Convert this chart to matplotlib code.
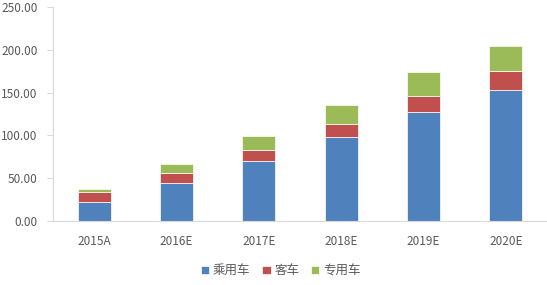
import matplotlib.pyplot as plt
import numpy as np

plt.rcParams['font.family'] = ['Noto Sans CJK SC', 'DejaVu Sans']

years = ['2015A', '2016E', '2017E', '2018E', '2019E', '2020E']
passenger = [22.2, 44.0, 70.0, 98.4, 127.5, 153.0]   # 乘用车
bus = [11.3, 12.0, 13.0, 15.1, 18.5, 22.5]            # 客车
special = [3.8, 10.5, 16.5, 22.5, 27.5, 29.5]        # 专用车
labels = ['乘用车', '客车', '专用车']
colors = ['#4F81BD', '#C0504D', '#9BBB59']

fig = plt.figure(figsize=(5.47, 2.85), dpi=100)
ax = fig.add_axes([0.097, 0.2246, 0.903, 0.7508])

x = np.arange(len(years))
w = 0.4
bottom = np.zeros(len(years))
for vals, lab, c in zip([passenger, bus, special], labels, colors):
    ax.bar(x, vals, w, bottom=bottom, color=c, label=lab, edgecolor='white', linewidth=0.5)
    bottom += np.array(vals)

ax.set_xlim(-0.5, len(years) - 0.5)
ax.set_ylim(0, 250)
ax.set_yticks(np.arange(0, 251, 50))
ax.set_yticklabels([f'{v:.2f}' for v in np.arange(0, 251, 50)])
ax.set_xticks(x)
ax.set_xticklabels(years)
ax.tick_params(labelsize=8.5, labelcolor='#595959')
ax.tick_params(axis='y', length=4, color='#D9D9D9', width=0.8, pad=7)
ax.tick_params(axis='x', length=0, pad=10)
for s in ['top', 'right']:
    ax.spines[s].set_visible(False)
for s in ['left', 'bottom']:
    ax.spines[s].set_color('#D9D9D9')
    ax.spines[s].set_linewidth(0.8)

fig.legend(loc='center', bbox_to_anchor=(0.513, 0.05), ncol=3, frameon=False,
           fontsize=9, handlelength=0.7, handleheight=0.7, handletextpad=0.3,
           columnspacing=0.9, labelcolor='#595959')

fig.savefig('out.png', dpi=100)
